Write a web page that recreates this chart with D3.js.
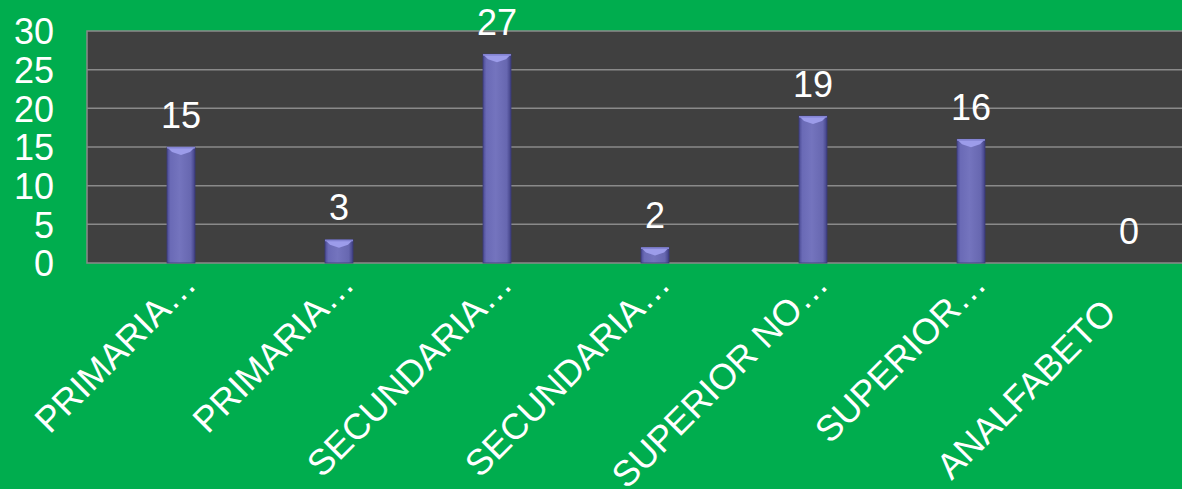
<!DOCTYPE html>
<html><head><meta charset="utf-8">
<script src="https://cdn.jsdelivr.net/npm/d3@7"></script>
<style>html,body{margin:0;padding:0;background:#00AD4E;overflow:hidden}</style>
</head><body>
<svg id="chart" width="1182" height="489"></svg>
<script>
const categories = ["PRIMARIA…", "PRIMARIA…", "SECUNDARIA…", "SECUNDARIA…", "SUPERIOR NO…", "SUPERIOR…", "ANALFABETO"];
const values = [15, 3, 27, 2, 19, 16, 0];
const yTicks = [0, 5, 10, 15, 20, 25, 30];

(function () {
const W = 1182, H = 489;
const svg = d3.select("#chart");
const plotLeft = 87, plotRight = 1200, plotTop = 31, plotBottom = 263, bandStart = 102, bandW = 158;
const x = d3.scaleBand().domain(d3.range(categories.length)).range([bandStart, bandStart + bandW * categories.length]).paddingInner(0).paddingOuter(0);
const y = d3.scaleLinear().domain([0, 30]).range([plotBottom, plotTop]);
const font = "'Liberation Sans', Arial, sans-serif";
const fs = 36;

svg.append("rect").attr("width", W).attr("height", H).attr("fill", "#00AD4E");

const defs = svg.append("defs");
const g1 = defs.append("linearGradient").attr("id", "barGrad").attr("x1", 0).attr("x2", 1).attr("y1", 0).attr("y2", 0);
g1.append("stop").attr("offset", "0%").attr("stop-color", "#4b4b94");
g1.append("stop").attr("offset", "12%").attr("stop-color", "#6a6ab6");
g1.append("stop").attr("offset", "45%").attr("stop-color", "#7474be");
g1.append("stop").attr("offset", "85%").attr("stop-color", "#6767b0");
g1.append("stop").attr("offset", "100%").attr("stop-color", "#404084");

// plot area
svg.append("rect").attr("x", plotLeft).attr("y", y(30)).attr("width", plotRight - plotLeft).attr("height", y(0) - y(30))
  .attr("fill", "#404040").attr("stroke", "#8a8a8a").attr("stroke-width", 1.5);

// gridlines
svg.append("g").selectAll("line").data(yTicks.filter(d => d > 0 && d < 30)).join("line")
  .attr("x1", plotLeft).attr("x2", plotRight).attr("y1", d => y(d)).attr("y2", d => y(d))
  .attr("stroke", "#8a8a8a").attr("stroke-width", 1.5);

// y axis labels
const yAxis = d3.axisLeft(y).tickValues(yTicks).tickSize(0).tickPadding(0);
const ya = svg.append("g").attr("transform", `translate(${plotLeft - 33},0)`).call(yAxis);
ya.select(".domain").remove();
ya.selectAll("text").attr("fill", "#fff").attr("font-size", fs).attr("font-family", font).attr("dy", "0.36em");

// bars
const barW = 28;
const bars = svg.append("g").selectAll("g").data(values).join("g")
  .attr("transform", (d, i) => `translate(${x(i) + x.bandwidth() / 2 - barW / 2},0)`);
bars.filter(d => d > 0).append("rect").attr("x", 0).attr("y", d => y(d)).attr("width", barW).attr("height", d => y(0) - y(d))
  .attr("fill", "url(#barGrad)").attr("stroke", "#3a3a78").attr("stroke-width", 0.8);
bars.filter(d => d > 0).append("path")
  .attr("d", d => `M0,${y(d)} L${barW},${y(d)} L${barW - 5},${y(d) + 5} L${barW / 2},${Math.min(y(d) + 8, y(0))} L5,${y(d) + 5} Z`)
  .attr("fill", "#9c9cea");
bars.filter(d => d > 0).append("path")
  .attr("d", d => `M0,${y(d)} L${barW},${y(d)} L${barW},${y(d)+1.5} L0,${y(d)+1.5} Z`)
  .attr("fill", "#8484d4");

// data labels
svg.append("g").selectAll("text").data(values).join("text")
  .attr("x", (d, i) => x(i) + x.bandwidth() / 2).attr("y", d => y(d) - 19.5)
  .attr("text-anchor", "middle").attr("fill", "#fff").attr("font-size", fs).attr("font-family", font)
  .text(d => d);

// x labels
const ang = 45, rad = ang * Math.PI / 180;
svg.append("g").selectAll("text").data(categories).join("text")
  .attr("transform", (d, i) => {
    let cx = x(i) + x.bandwidth() / 2 - 1, cy = 268;
    if (!d.endsWith("…")) { const s = 40; cx -= s * Math.cos(rad); cy += s * Math.sin(rad); }
    return `translate(${cx},${cy}) rotate(${-ang})`;
  })
  .attr("text-anchor", "end").attr("dy", "0.72em").attr("fill", "#fff").attr("font-size", fs).attr("font-family", font)
  .text(d => d);
})();
</script>
</body></html>
